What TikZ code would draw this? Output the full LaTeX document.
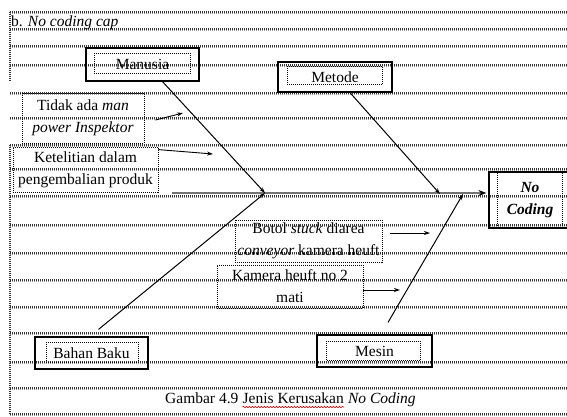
\documentclass[tikz,border=0pt]{standalone}
\usepackage{fontspec}
\setmainfont{Liberation Serif}
\usetikzlibrary{arrows.meta,calc,decorations.pathmorphing}
\newcommand\docfs{\fontsize{15.5}{22}\selectfont}
\begin{document}
\begin{tikzpicture}[x=1pt,y=-1pt,
  font=\docfs,
  gridln/.style={black!80,line width=1.1pt,dash pattern=on 1pt off 1pt},
  gridlt/.style={black!40,line width=0.9pt,dash pattern=on 1pt off 1pt},
  catbox/.style={draw,line width=1.2pt,inner sep=0pt},
  innerdot/.style={draw,line width=0.8pt,dash pattern=on 1pt off 1pt},
  causebox/.style={draw,line width=0.8pt,dash pattern=on 1pt off 1pt,inner sep=0pt,align=center},
  bone/.style={line width=1pt,-{Stealth[length=6pt,width=4pt]}},
  cause/.style={line width=0.9pt,-{Stealth[length=6pt,width=4pt]}}
]
\useasboundingbox (0,0) rectangle (567,416);
\clip (0,0) rectangle (567,416);
\fill[white] (0,0) rectangle (567,416);
% page grid lines
\foreach \yy in {12,29,46,65,93,118,145,169,196,225,253,280,307,333,362,388,414}{
  \draw[gridlt] (10,\yy+1.6) -- (567,\yy+1.6);
  \draw[gridln] (10,\yy) -- (567,\yy);
}
\draw[gridln] (10,12) -- (10,82);
\draw[gridln] (10,145) -- (10,414);

% title
\node[anchor=base west,inner sep=0pt] (title) at (11,26) {b. \textit{No coding cap}};

% category boxes
\node[catbox,minimum width=113pt,minimum height=33pt] (manusia) at (142.5,64.5) {Manusia};
\draw[innerdot] ([shift={(9,6)}]manusia.north west) rectangle ([shift={(-9,-8)}]manusia.south east);
\node[catbox,minimum width=114pt,minimum height=30pt] (metode) at (335,77) {Metode};
\draw[innerdot] ([shift={(10,5)}]metode.north west) rectangle ([shift={(-10,-8)}]metode.south east);
\node[catbox,minimum width=113pt,minimum height=32pt] (bahan) at (91.5,353) {Bahan Baku};
\draw[innerdot] ([shift={(12,6)}]bahan.north west) rectangle ([shift={(-10,-7)}]bahan.south east);
\node[catbox,minimum width=115pt,minimum height=32pt] (mesin) at (374.5,351) {Mesin};
\draw[innerdot] ([shift={(10,7)}]mesin.north west) rectangle ([shift={(-12,-7)}]mesin.south east);

% effect box
\node[catbox,minimum width=82pt,minimum height=56pt,align=center,font=\docfs\bfseries\itshape] (nocoding) at (530,200) {No\\Coding};
\draw[innerdot] ([xshift=9pt]nocoding.north west) -- ([xshift=9pt]nocoding.south west);
\draw[innerdot] ([xshift=-9pt]nocoding.north east) -- ([xshift=-9pt]nocoding.south east);

% cause boxes
\node[causebox,minimum width=122pt,minimum height=50pt] (tidak) at (83,118) {Tidak ada \textit{man}\\\textit{power Inspektor}};
\node[causebox,minimum width=145pt,minimum height=45pt] (ketel) at (85.5,169.5) {Ketelitian dalam\\pengembalian produk};
\node[causebox,minimum width=147pt,minimum height=42pt] (botol) at (308.5,241) {Botol \textit{stuck} diarea\\\textit{conveyor} kamera heuft};
\node[causebox,minimum width=146pt,minimum height=43pt] (kamera) at (290,286.5) {Kamera heuft no 2\\mati};

% spine
\coordinate (spst) at (172,193);
\coordinate (jL) at (265,193);
\coordinate (jM) at (440,194);
\coordinate (jR) at (463,194);
\draw[black!55,line width=2pt,-{Stealth[length=8pt,width=6pt,color=black]},shorten >=2pt] (spst) -- (spst -| nocoding.west);

% bones
\draw[bone] ([xshift=20pt]manusia.south) -- (jL);
\draw[bone] ([xshift=15pt]metode.south) -- (jM);
\draw[bone] ([shift={(7,-7)}]bahan.north) -- (jL);
\draw[bone] ([shift={(13.5,-12)}]mesin.north) -- (jR);

% cause arrows
\coordinate (a1) at (183,113);
\coordinate (a2) at (213,154);
\coordinate (a3) at (430,233);
\coordinate (a4) at (400,290);
\draw[cause] ([shift={(11,2)}]tidak.east) -- (a1);
\draw[cause] ([shift={(0,3)}]ketel.north east) -- (a2);
\draw[cause] ([shift={(8,-8)}]botol.east) -- (a3);
\draw[cause] ([shift={(0,3.5)}]kamera.east) -- (a4);

% caption
\node[anchor=base west,inner sep=0pt] (capa) at (165,403) {Gambar 4.9};
\node[anchor=base west,inner sep=0pt] (capb) at ([xshift=3.9pt]capa.base east) {Jenis Kerusakan};
\node[anchor=base west,inner sep=0pt] (capc) at ([xshift=3.9pt]capb.base east) {\itshape No Coding};
\draw[red!80!black,line width=0.6pt,decorate,decoration={snake,amplitude=0.7pt,segment length=3pt}] ([yshift=-4pt]capb.base west) -- ([yshift=-4pt]capb.base east);
\end{tikzpicture}
\end{document}
